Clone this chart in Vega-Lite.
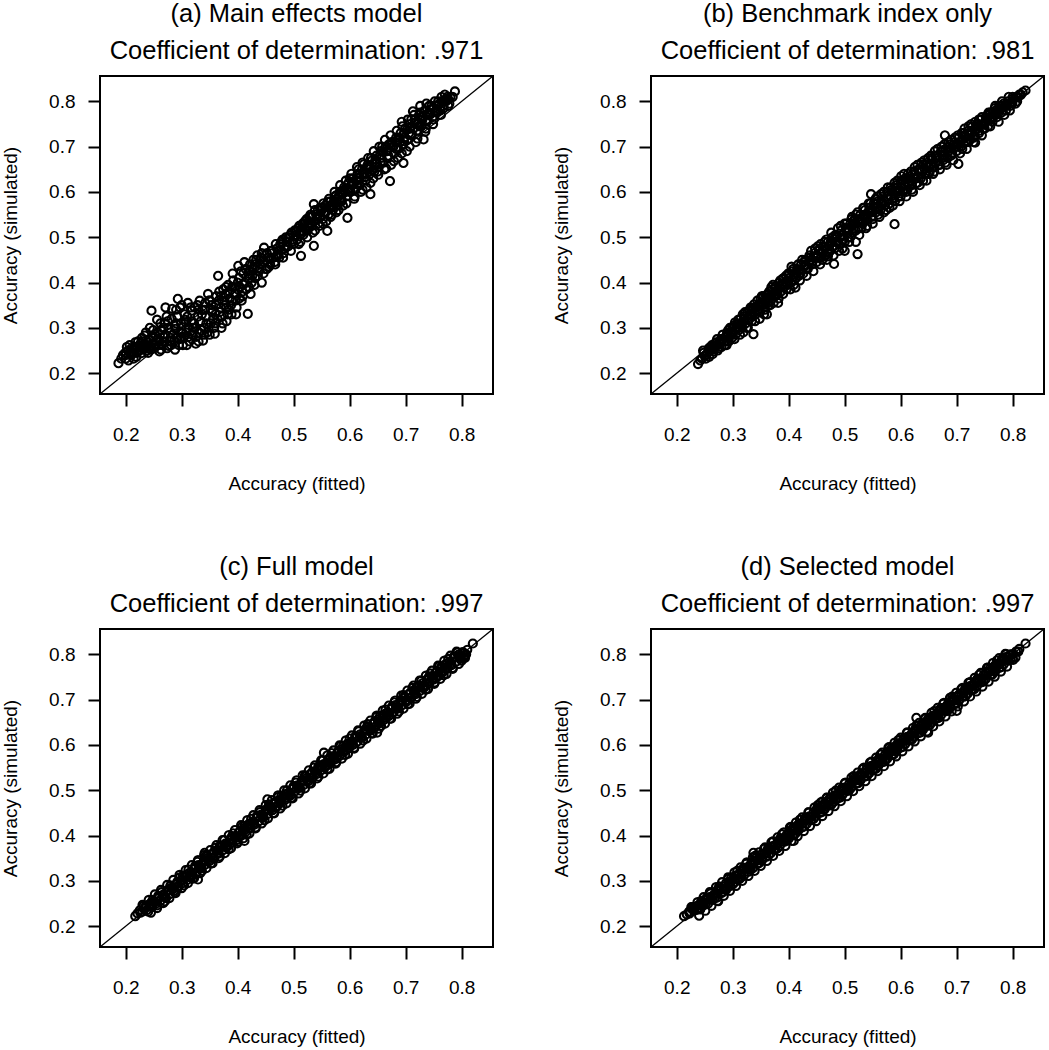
{
"$schema":"https://vega.github.io/schema/vega-lite/v6.json",
"padding":{"left":0,"top":0,"right":0,"bottom":0},
"background":"white",
"config":{
 "view":{"stroke":"black","strokeWidth":2},
 "font":"Liberation Sans",
 "axis":{"grid":false,"domain":false,"tickColor":"black","tickWidth":2,"tickSize":12,"labelFont":"Liberation Sans","labelFontSize":19,"labelColor":"black","titleFont":"Liberation Sans","titleFontSize":19,"titleFontWeight":"normal","titleColor":"black","format":".1f","labelFlush":false,"labelOverlap":false},
 "axisX":{"labelPadding":19,"titlePadding":30},
 "axisY":{"labelPadding":13,"titlePadding":28,"labelAngle":0},
 "point":{"shape":"circle","filled":false,"color":"black","size":66,"strokeWidth":2.1,"opacity":1,"clip":true},
 "line":{"color":"black","strokeWidth":1.3,"clip":true},
 "title":{"fontSize":25.5,"fontWeight":"normal","font":"Liberation Sans","color":"black","lineHeight":37,"baseline":"bottom","offset":9,"frame":"group","anchor":"middle"}
},
"datasets":{
"diag":[{"x":0.154,"y":0.154},{"x":0.856,"y":0.856}],
"a":[{"x":0.187,"y":0.222},{"x":0.195,"y":0.24},{"x":0.2,"y":0.232},{"x":0.204,"y":0.25},{"x":0.207,"y":0.262},{"x":0.21,"y":0.24},{"x":0.213,"y":0.245},{"x":0.216,"y":0.258},{"x":0.219,"y":0.236},{"x":0.222,"y":0.27},{"x":0.225,"y":0.25},{"x":0.228,"y":0.244},{"x":0.231,"y":0.262},{"x":0.234,"y":0.283},{"x":0.237,"y":0.25},{"x":0.24,"y":0.245},{"x":0.243,"y":0.3},{"x":0.246,"y":0.338},{"x":0.248,"y":0.265},{"x":0.251,"y":0.255},{"x":0.254,"y":0.272},{"x":0.257,"y":0.29},{"x":0.26,"y":0.248},{"x":0.262,"y":0.31},{"x":0.265,"y":0.262},{"x":0.268,"y":0.28},{"x":0.271,"y":0.345},{"x":0.274,"y":0.255},{"x":0.276,"y":0.3},{"x":0.279,"y":0.27},{"x":0.282,"y":0.32},{"x":0.285,"y":0.285},{"x":0.288,"y":0.252},{"x":0.29,"y":0.34},{"x":0.293,"y":0.364},{"x":0.296,"y":0.275},{"x":0.299,"y":0.31},{"x":0.302,"y":0.262},{"x":0.305,"y":0.33},{"x":0.308,"y":0.29},{"x":0.311,"y":0.355},{"x":0.314,"y":0.27},{"x":0.317,"y":0.315},{"x":0.32,"y":0.3},{"x":0.323,"y":0.345},{"x":0.326,"y":0.28},{"x":0.329,"y":0.325},{"x":0.332,"y":0.36},{"x":0.335,"y":0.295},{"x":0.338,"y":0.272},{"x":0.341,"y":0.34},{"x":0.344,"y":0.31},{"x":0.347,"y":0.375},{"x":0.35,"y":0.285},{"x":0.353,"y":0.35},{"x":0.356,"y":0.32},{"x":0.359,"y":0.287},{"x":0.362,"y":0.37},{"x":0.365,"y":0.415},{"x":0.368,"y":0.335},{"x":0.371,"y":0.3},{"x":0.374,"y":0.385},{"x":0.377,"y":0.35},{"x":0.38,"y":0.315},{"x":0.383,"y":0.395},{"x":0.386,"y":0.365},{"x":0.389,"y":0.33},{"x":0.392,"y":0.405},{"x":0.395,"y":0.375},{"x":0.398,"y":0.345},{"x":0.401,"y":0.437},{"x":0.404,"y":0.39},{"x":0.407,"y":0.36},{"x":0.41,"y":0.42},{"x":0.413,"y":0.4},{"x":0.418,"y":0.331},{"x":0.42,"y":0.41},{"x":0.423,"y":0.375},{"x":0.426,"y":0.43},{"x":0.43,"y":0.395},{"x":0.433,"y":0.45},{"x":0.436,"y":0.415},{"x":0.44,"y":0.44},{"x":0.443,"y":0.4},{"x":0.447,"y":0.477},{"x":0.45,"y":0.43},{"x":0.454,"y":0.455},{"x":0.458,"y":0.44},{"x":0.462,"y":0.465},{"x":0.466,"y":0.445},{"x":0.47,"y":0.475},{"x":0.474,"y":0.455},{"x":0.478,"y":0.49},{"x":0.482,"y":0.465},{"x":0.486,"y":0.5},{"x":0.49,"y":0.48},{"x":0.494,"y":0.505},{"x":0.498,"y":0.49},{"x":0.502,"y":0.515},{"x":0.506,"y":0.495},{"x":0.51,"y":0.525},{"x":0.513,"y":0.459},{"x":0.517,"y":0.505},{"x":0.52,"y":0.535},{"x":0.524,"y":0.515},{"x":0.528,"y":0.545},{"x":0.532,"y":0.525},{"x":0.536,"y":0.481},{"x":0.536,"y":0.573},{"x":0.54,"y":0.55},{"x":0.544,"y":0.53},{"x":0.548,"y":0.56},{"x":0.552,"y":0.54},{"x":0.556,"y":0.57},{"x":0.56,"y":0.514},{"x":0.562,"y":0.55},{"x":0.566,"y":0.58},{"x":0.57,"y":0.56},{"x":0.574,"y":0.59},{"x":0.578,"y":0.57},{"x":0.582,"y":0.6},{"x":0.586,"y":0.58},{"x":0.59,"y":0.61},{"x":0.594,"y":0.59},{"x":0.596,"y":0.543},{"x":0.598,"y":0.62},{"x":0.602,"y":0.6},{"x":0.606,"y":0.63},{"x":0.61,"y":0.605},{"x":0.614,"y":0.64},{"x":0.618,"y":0.615},{"x":0.622,"y":0.65},{"x":0.625,"y":0.661},{"x":0.628,"y":0.625},{"x":0.632,"y":0.66},{"x":0.636,"y":0.64},{"x":0.637,"y":0.595},{"x":0.64,"y":0.67},{"x":0.644,"y":0.645},{"x":0.648,"y":0.68},{"x":0.652,"y":0.655},{"x":0.656,"y":0.69},{"x":0.66,"y":0.665},{"x":0.664,"y":0.7},{"x":0.668,"y":0.675},{"x":0.672,"y":0.624},{"x":0.675,"y":0.71},{"x":0.679,"y":0.685},{"x":0.683,"y":0.72},{"x":0.687,"y":0.695},{"x":0.691,"y":0.73},{"x":0.695,"y":0.705},{"x":0.696,"y":0.664},{"x":0.699,"y":0.74},{"x":0.703,"y":0.715},{"x":0.707,"y":0.75},{"x":0.711,"y":0.725},{"x":0.713,"y":0.778},{"x":0.716,"y":0.76},{"x":0.72,"y":0.735},{"x":0.724,"y":0.77},{"x":0.728,"y":0.745},{"x":0.732,"y":0.716},{"x":0.734,"y":0.78},{"x":0.738,"y":0.755},{"x":0.742,"y":0.79},{"x":0.744,"y":0.771},{"x":0.748,"y":0.765},{"x":0.752,"y":0.8},{"x":0.756,"y":0.775},{"x":0.76,"y":0.795},{"x":0.764,"y":0.81},{"x":0.768,"y":0.785},{"x":0.772,"y":0.8},{"x":0.776,"y":0.79},{"x":0.78,"y":0.81},{"x":0.788,"y":0.822},
{"x":0.205,"y":0.228},{"x":0.218,"y":0.252},{"x":0.229,"y":0.256},{"x":0.238,"y":0.268},{"x":0.244,"y":0.258},{"x":0.252,"y":0.285},{"x":0.259,"y":0.262},{"x":0.264,"y":0.295},{"x":0.269,"y":0.27},{"x":0.275,"y":0.315},{"x":0.281,"y":0.262},{"x":0.287,"y":0.305},{"x":0.292,"y":0.278},{"x":0.297,"y":0.345},{"x":0.301,"y":0.288},{"x":0.307,"y":0.312},{"x":0.312,"y":0.28},{"x":0.318,"y":0.338},{"x":0.324,"y":0.3},{"x":0.33,"y":0.27},{"x":0.336,"y":0.33},{"x":0.342,"y":0.355},{"x":0.348,"y":0.3},{"x":0.354,"y":0.335},{"x":0.36,"y":0.31},{"x":0.366,"y":0.36},{"x":0.372,"y":0.325},{"x":0.378,"y":0.375},{"x":0.384,"y":0.34},{"x":0.39,"y":0.39},{"x":0.396,"y":0.36},{"x":0.402,"y":0.41},{"x":0.408,"y":0.38},{"x":0.414,"y":0.43},{"x":0.42,"y":0.39},{"x":0.426,"y":0.415},{"x":0.432,"y":0.435},{"x":0.438,"y":0.425},{"x":0.442,"y":0.455},{"x":0.448,"y":0.445},{"x":0.452,"y":0.465},{"x":0.456,"y":0.435},{"x":0.46,"y":0.47},{"x":0.464,"y":0.455},{"x":0.468,"y":0.485},{"x":0.472,"y":0.46},{"x":0.476,"y":0.48},{"x":0.48,"y":0.495},{"x":0.484,"y":0.475},{"x":0.488,"y":0.49},{"x":0.492,"y":0.5},{"x":0.496,"y":0.51},{"x":0.5,"y":0.485},{"x":0.504,"y":0.505},{"x":0.508,"y":0.52},{"x":0.512,"y":0.49},{"x":0.516,"y":0.53},{"x":0.52,"y":0.52},{"x":0.526,"y":0.53},{"x":0.53,"y":0.55},{"x":0.534,"y":0.51},{"x":0.538,"y":0.56},{"x":0.542,"y":0.545},{"x":0.546,"y":0.525},{"x":0.55,"y":0.565},{"x":0.554,"y":0.555},{"x":0.558,"y":0.535},{"x":0.564,"y":0.57},{"x":0.568,"y":0.55},{"x":0.572,"y":0.58},{"x":0.576,"y":0.555},{"x":0.58,"y":0.59},{"x":0.584,"y":0.6},{"x":0.588,"y":0.57},{"x":0.592,"y":0.6},{"x":0.6,"y":0.63},{"x":0.604,"y":0.615},{"x":0.608,"y":0.585},{"x":0.612,"y":0.625},{"x":0.616,"y":0.65},{"x":0.62,"y":0.6},{"x":0.624,"y":0.64},{"x":0.63,"y":0.61},{"x":0.634,"y":0.65},{"x":0.638,"y":0.675},{"x":0.642,"y":0.63},{"x":0.646,"y":0.665},{"x":0.65,"y":0.645},{"x":0.654,"y":0.68},{"x":0.658,"y":0.7},{"x":0.662,"y":0.65},{"x":0.666,"y":0.69},{"x":0.67,"y":0.705},{"x":0.674,"y":0.66},{"x":0.678,"y":0.7},{"x":0.682,"y":0.71},{"x":0.686,"y":0.675},{"x":0.69,"y":0.71},{"x":0.694,"y":0.745},{"x":0.698,"y":0.72},{"x":0.702,"y":0.69},{"x":0.706,"y":0.73},{"x":0.71,"y":0.76},{"x":0.714,"y":0.74},{"x":0.718,"y":0.71},{"x":0.722,"y":0.75},{"x":0.726,"y":0.775},{"x":0.73,"y":0.76},{"x":0.736,"y":0.74},{"x":0.74,"y":0.77},{"x":0.746,"y":0.79},{"x":0.75,"y":0.76},{"x":0.758,"y":0.8},{"x":0.762,"y":0.78},{"x":0.77,"y":0.815},{"x":0.776,"y":0.805},{"x":0.784,"y":0.81},
{"x":0.192,"y":0.232},{"x":0.199,"y":0.245},{"x":0.202,"y":0.258},{"x":0.209,"y":0.248},{"x":0.214,"y":0.232},{"x":0.217,"y":0.268},{"x":0.221,"y":0.258},{"x":0.226,"y":0.265},{"x":0.229,"y":0.278},{"x":0.233,"y":0.255},{"x":0.236,"y":0.29},{"x":0.239,"y":0.262},{"x":0.242,"y":0.275},{"x":0.245,"y":0.252},{"x":0.249,"y":0.295},{"x":0.253,"y":0.262},{"x":0.256,"y":0.318},{"x":0.258,"y":0.275},{"x":0.261,"y":0.285},{"x":0.263,"y":0.252},{"x":0.267,"y":0.3},{"x":0.27,"y":0.285},{"x":0.273,"y":0.325},{"x":0.277,"y":0.26},{"x":0.28,"y":0.29},{"x":0.283,"y":0.342},{"x":0.286,"y":0.27},{"x":0.289,"y":0.298},{"x":0.292,"y":0.325},{"x":0.295,"y":0.262},{"x":0.298,"y":0.29},{"x":0.3,"y":0.35},{"x":0.304,"y":0.28},{"x":0.306,"y":0.318},{"x":0.309,"y":0.262},{"x":0.313,"y":0.3},{"x":0.316,"y":0.345},{"x":0.319,"y":0.285},{"x":0.322,"y":0.31},{"x":0.325,"y":0.265},{"x":0.328,"y":0.35},{"x":0.331,"y":0.29},{"x":0.334,"y":0.315},{"x":0.337,"y":0.34},{"x":0.34,"y":0.285},{"x":0.343,"y":0.325},{"x":0.346,"y":0.29},{"x":0.349,"y":0.36},{"x":0.352,"y":0.31},{"x":0.355,"y":0.34},{"x":0.358,"y":0.3},{"x":0.361,"y":0.35},{"x":0.364,"y":0.32},{"x":0.367,"y":0.38},{"x":0.37,"y":0.345},{"x":0.373,"y":0.31},{"x":0.376,"y":0.36},{"x":0.379,"y":0.39},{"x":0.382,"y":0.33},{"x":0.385,"y":0.38},{"x":0.388,"y":0.35},{"x":0.391,"y":0.42},{"x":0.394,"y":0.39},{"x":0.397,"y":0.33},{"x":0.4,"y":0.4},{"x":0.403,"y":0.365},{"x":0.406,"y":0.425},{"x":0.409,"y":0.37},{"x":0.412,"y":0.445},{"x":0.415,"y":0.385},{"x":0.419,"y":0.42},{"x":0.422,"y":0.44},{"x":0.425,"y":0.4},{"x":0.428,"y":0.45},{"x":0.431,"y":0.41},{"x":0.435,"y":0.46},{"x":0.439,"y":0.43},{"x":0.443,"y":0.465},{"x":0.446,"y":0.42},
{"x":0.51,"y":0.51},{"x":0.515,"y":0.515},{"x":0.523,"y":0.54},{"x":0.527,"y":0.52},{"x":0.533,"y":0.545},{"x":0.537,"y":0.535},{"x":0.543,"y":0.56},{"x":0.547,"y":0.545},{"x":0.553,"y":0.575},{"x":0.557,"y":0.555},{"x":0.563,"y":0.585},{"x":0.567,"y":0.57},{"x":0.573,"y":0.6},{"x":0.577,"y":0.58},{"x":0.583,"y":0.615},{"x":0.587,"y":0.595},{"x":0.593,"y":0.625},{"x":0.597,"y":0.605},{"x":0.603,"y":0.64},{"x":0.607,"y":0.62},{"x":0.613,"y":0.655},{"x":0.617,"y":0.63},{"x":0.623,"y":0.665},{"x":0.627,"y":0.64},{"x":0.633,"y":0.675},{"x":0.637,"y":0.655},{"x":0.643,"y":0.69},{"x":0.647,"y":0.665},{"x":0.653,"y":0.7},{"x":0.657,"y":0.675},{"x":0.663,"y":0.715},{"x":0.667,"y":0.69},{"x":0.673,"y":0.725},{"x":0.677,"y":0.7},{"x":0.684,"y":0.735},{"x":0.688,"y":0.715},{"x":0.693,"y":0.755},{"x":0.697,"y":0.73},{"x":0.704,"y":0.76},{"x":0.708,"y":0.74},{"x":0.715,"y":0.77},{"x":0.719,"y":0.75},{"x":0.726,"y":0.79},{"x":0.731,"y":0.765},{"x":0.737,"y":0.795},{"x":0.741,"y":0.775},{"x":0.75,"y":0.785},{"x":0.757,"y":0.79},{"x":0.766,"y":0.8},{"x":0.774,"y":0.81},
{"x":0.452,"y":0.43},{"x":0.457,"y":0.452},{"x":0.461,"y":0.47},{"x":0.467,"y":0.44},{"x":0.471,"y":0.462},{"x":0.476,"y":0.485},{"x":0.481,"y":0.455},{"x":0.486,"y":0.478},{"x":0.49,"y":0.5},{"x":0.495,"y":0.47},{"x":0.5,"y":0.495},{"x":0.505,"y":0.515},{"x":0.509,"y":0.485},{"x":0.514,"y":0.508},{"x":0.519,"y":0.53},{"x":0.524,"y":0.5},{"x":0.528,"y":0.525},{"x":0.533,"y":0.548},{"x":0.538,"y":0.515},{"x":0.543,"y":0.54},{"x":0.547,"y":0.565},{"x":0.552,"y":0.53},{"x":0.557,"y":0.556},{"x":0.561,"y":0.578},{"x":0.566,"y":0.545},{"x":0.571,"y":0.568},{"x":0.575,"y":0.592},{"x":0.58,"y":0.56},{"x":0.585,"y":0.583},{"x":0.59,"y":0.605},{"x":0.594,"y":0.575},{"x":0.599,"y":0.6},{"x":0.604,"y":0.622},{"x":0.609,"y":0.59},{"x":0.613,"y":0.617},{"x":0.618,"y":0.64},{"x":0.623,"y":0.605},{"x":0.627,"y":0.633},{"x":0.632,"y":0.655},{"x":0.637,"y":0.62},{"x":0.641,"y":0.648},{"x":0.646,"y":0.672},{"x":0.651,"y":0.638},{"x":0.655,"y":0.664},{"x":0.66,"y":0.688},{"x":0.665,"y":0.652},{"x":0.669,"y":0.68},{"x":0.674,"y":0.703},{"x":0.679,"y":0.668},{"x":0.683,"y":0.695},{"x":0.688,"y":0.72},{"x":0.693,"y":0.685},{"x":0.697,"y":0.712},{"x":0.702,"y":0.737},{"x":0.707,"y":0.7},{"x":0.711,"y":0.728},{"x":0.716,"y":0.752},{"x":0.721,"y":0.718},{"x":0.725,"y":0.745},{"x":0.73,"y":0.768},{"x":0.735,"y":0.733},{"x":0.739,"y":0.76},{"x":0.744,"y":0.782},{"x":0.749,"y":0.75},{"x":0.753,"y":0.776},{"x":0.758,"y":0.792},{"x":0.763,"y":0.77},{"x":0.767,"y":0.79},{"x":0.772,"y":0.805},{"x":0.778,"y":0.795},
{"x":0.2,"y":0.24},{"x":0.21,"y":0.255},{"x":0.22,"y":0.245},{"x":0.23,"y":0.27},{"x":0.24,"y":0.255},{"x":0.25,"y":0.28},{"x":0.26,"y":0.27},{"x":0.27,"y":0.31},{"x":0.28,"y":0.278},{"x":0.29,"y":0.31},{"x":0.3,"y":0.28},{"x":0.31,"y":0.325},{"x":0.32,"y":0.29},{"x":0.33,"y":0.34},{"x":0.34,"y":0.3},{"x":0.35,"y":0.36},{"x":0.36,"y":0.33},{"x":0.37,"y":0.37},{"x":0.38,"y":0.345},{"x":0.39,"y":0.36},{"x":0.4,"y":0.385},{"x":0.41,"y":0.395},{"x":0.42,"y":0.425},{"x":0.43,"y":0.44},{"x":0.44,"y":0.45}],
"b":[{"x":0.238,"y":0.22},{"x":0.245,"y":0.232},{"x":0.25,"y":0.238},{"x":0.255,"y":0.245},{"x":0.258,"y":0.236},{"x":0.262,"y":0.252},{"x":0.266,"y":0.248},{"x":0.27,"y":0.26},{"x":0.273,"y":0.25},{"x":0.276,"y":0.268},{"x":0.28,"y":0.258},{"x":0.283,"y":0.275},{"x":0.286,"y":0.262},{"x":0.29,"y":0.285},{"x":0.293,"y":0.27},{"x":0.296,"y":0.29},{"x":0.299,"y":0.278},{"x":0.302,"y":0.305},{"x":0.305,"y":0.285},{"x":0.308,"y":0.31},{"x":0.311,"y":0.295},{"x":0.314,"y":0.32},{"x":0.317,"y":0.3},{"x":0.32,"y":0.325},{"x":0.323,"y":0.31},{"x":0.326,"y":0.335},{"x":0.329,"y":0.318},{"x":0.332,"y":0.345},{"x":0.335,"y":0.325},{"x":0.337,"y":0.286},{"x":0.338,"y":0.352},{"x":0.341,"y":0.33},{"x":0.344,"y":0.36},{"x":0.347,"y":0.34},{"x":0.35,"y":0.365},{"x":0.353,"y":0.35},{"x":0.356,"y":0.33},{"x":0.359,"y":0.372},{"x":0.361,"y":0.33},{"x":0.362,"y":0.355},{"x":0.365,"y":0.38},{"x":0.368,"y":0.36},{"x":0.371,"y":0.385},{"x":0.374,"y":0.37},{"x":0.377,"y":0.392},{"x":0.38,"y":0.375},{"x":0.383,"y":0.4},{"x":0.386,"y":0.38},{"x":0.389,"y":0.408},{"x":0.392,"y":0.39},{"x":0.395,"y":0.415},{"x":0.398,"y":0.395},{"x":0.401,"y":0.42},{"x":0.404,"y":0.4},{"x":0.407,"y":0.425},{"x":0.41,"y":0.405},{"x":0.412,"y":0.389},{"x":0.415,"y":0.43},{"x":0.418,"y":0.415},{"x":0.422,"y":0.44},{"x":0.426,"y":0.42},{"x":0.43,"y":0.45},{"x":0.434,"y":0.43},{"x":0.438,"y":0.455},{"x":0.442,"y":0.44},{"x":0.446,"y":0.465},{"x":0.45,"y":0.445},{"x":0.454,"y":0.47},{"x":0.458,"y":0.455},{"x":0.462,"y":0.48},{"x":0.466,"y":0.46},{"x":0.47,"y":0.49},{"x":0.474,"y":0.47},{"x":0.478,"y":0.5},{"x":0.481,"y":0.441},{"x":0.482,"y":0.475},{"x":0.486,"y":0.505},{"x":0.49,"y":0.485},{"x":0.494,"y":0.515},{"x":0.498,"y":0.495},{"x":0.5,"y":0.47},{"x":0.502,"y":0.52},{"x":0.506,"y":0.5},{"x":0.51,"y":0.53},{"x":0.514,"y":0.51},{"x":0.518,"y":0.54},{"x":0.52,"y":0.49},{"x":0.523,"y":0.463},{"x":0.525,"y":0.52},{"x":0.528,"y":0.55},{"x":0.532,"y":0.53},{"x":0.536,"y":0.56},{"x":0.54,"y":0.54},{"x":0.544,"y":0.565},{"x":0.547,"y":0.595},{"x":0.548,"y":0.545},{"x":0.552,"y":0.575},{"x":0.556,"y":0.555},{"x":0.56,"y":0.58},{"x":0.564,"y":0.56},{"x":0.568,"y":0.59},{"x":0.572,"y":0.57},{"x":0.576,"y":0.6},{"x":0.58,"y":0.575},{"x":0.584,"y":0.605},{"x":0.588,"y":0.585},{"x":0.589,"y":0.529},{"x":0.592,"y":0.615},{"x":0.596,"y":0.59},{"x":0.6,"y":0.62},{"x":0.604,"y":0.6},{"x":0.608,"y":0.63},{"x":0.612,"y":0.605},{"x":0.616,"y":0.635},{"x":0.62,"y":0.615},{"x":0.624,"y":0.645},{"x":0.628,"y":0.62},{"x":0.632,"y":0.65},{"x":0.636,"y":0.63},{"x":0.64,"y":0.66},{"x":0.644,"y":0.64},{"x":0.648,"y":0.665},{"x":0.652,"y":0.645},{"x":0.656,"y":0.675},{"x":0.66,"y":0.655},{"x":0.664,"y":0.68},{"x":0.668,"y":0.66},{"x":0.672,"y":0.69},{"x":0.676,"y":0.67},{"x":0.679,"y":0.725},{"x":0.68,"y":0.695},{"x":0.684,"y":0.675},{"x":0.688,"y":0.705},{"x":0.692,"y":0.685},{"x":0.696,"y":0.71},{"x":0.7,"y":0.69},{"x":0.703,"y":0.662},{"x":0.704,"y":0.72},{"x":0.708,"y":0.7},{"x":0.712,"y":0.73},{"x":0.716,"y":0.71},{"x":0.72,"y":0.735},{"x":0.724,"y":0.715},{"x":0.728,"y":0.745},{"x":0.732,"y":0.725},{"x":0.733,"y":0.709},{"x":0.736,"y":0.75},{"x":0.74,"y":0.735},{"x":0.744,"y":0.76},{"x":0.748,"y":0.74},{"x":0.752,"y":0.765},{"x":0.756,"y":0.745},{"x":0.76,"y":0.775},{"x":0.764,"y":0.755},{"x":0.768,"y":0.785},{"x":0.772,"y":0.765},{"x":0.776,"y":0.79},{"x":0.78,"y":0.775},{"x":0.784,"y":0.795},{"x":0.788,"y":0.78},{"x":0.792,"y":0.8},{"x":0.796,"y":0.79},{"x":0.8,"y":0.805},{"x":0.805,"y":0.795},{"x":0.81,"y":0.81},{"x":0.815,"y":0.815},{"x":0.823,"y":0.824},
{"x":0.242,"y":0.228},{"x":0.248,"y":0.245},{"x":0.253,"y":0.24},{"x":0.26,"y":0.258},{"x":0.264,"y":0.242},{"x":0.268,"y":0.265},{"x":0.275,"y":0.255},{"x":0.279,"y":0.275},{"x":0.285,"y":0.27},{"x":0.289,"y":0.262},{"x":0.292,"y":0.295},{"x":0.298,"y":0.285},{"x":0.303,"y":0.275},{"x":0.306,"y":0.3},{"x":0.31,"y":0.318},{"x":0.315,"y":0.305},{"x":0.319,"y":0.29},{"x":0.322,"y":0.335},{"x":0.327,"y":0.3},{"x":0.331,"y":0.33},{"x":0.336,"y":0.342},{"x":0.34,"y":0.315},{"x":0.345,"y":0.35},{"x":0.349,"y":0.335},{"x":0.352,"y":0.37},{"x":0.357,"y":0.345},{"x":0.36,"y":0.365},{"x":0.364,"y":0.35},{"x":0.369,"y":0.39},{"x":0.373,"y":0.355},{"x":0.378,"y":0.38},{"x":0.382,"y":0.365},{"x":0.387,"y":0.395},{"x":0.391,"y":0.41},{"x":0.396,"y":0.385},{"x":0.4,"y":0.41},{"x":0.405,"y":0.435},{"x":0.409,"y":0.395},{"x":0.414,"y":0.42},{"x":0.42,"y":0.405},{"x":0.424,"y":0.45},{"x":0.428,"y":0.435},{"x":0.432,"y":0.415},{"x":0.436,"y":0.445},{"x":0.44,"y":0.47},{"x":0.444,"y":0.425},{"x":0.448,"y":0.455},{"x":0.452,"y":0.48},{"x":0.456,"y":0.44},{"x":0.46,"y":0.465},{"x":0.464,"y":0.49},{"x":0.468,"y":0.45},{"x":0.472,"y":0.48},{"x":0.476,"y":0.51},{"x":0.48,"y":0.46},{"x":0.484,"y":0.49},{"x":0.488,"y":0.52},{"x":0.492,"y":0.5},{"x":0.496,"y":0.475},{"x":0.5,"y":0.53},{"x":0.504,"y":0.51},{"x":0.508,"y":0.49},{"x":0.512,"y":0.54},{"x":0.516,"y":0.52},{"x":0.52,"y":0.55},{"x":0.526,"y":0.505},{"x":0.53,"y":0.54},{"x":0.534,"y":0.565},{"x":0.538,"y":0.52},{"x":0.542,"y":0.555},{"x":0.546,"y":0.575},{"x":0.55,"y":0.53},{"x":0.554,"y":0.565},{"x":0.558,"y":0.59},{"x":0.562,"y":0.545},{"x":0.566,"y":0.575},{"x":0.57,"y":0.6},{"x":0.574,"y":0.56},{"x":0.578,"y":0.585},{"x":0.582,"y":0.61},{"x":0.586,"y":0.57},{"x":0.59,"y":0.6},{"x":0.594,"y":0.625},{"x":0.598,"y":0.58},{"x":0.602,"y":0.61},{"x":0.606,"y":0.64},{"x":0.61,"y":0.59},{"x":0.614,"y":0.62},{"x":0.618,"y":0.645},{"x":0.622,"y":0.6},{"x":0.626,"y":0.63},{"x":0.63,"y":0.66},{"x":0.634,"y":0.615},{"x":0.638,"y":0.645},{"x":0.642,"y":0.67},{"x":0.646,"y":0.625},{"x":0.65,"y":0.655},{"x":0.654,"y":0.68},{"x":0.658,"y":0.64},{"x":0.662,"y":0.665},{"x":0.666,"y":0.695},{"x":0.67,"y":0.65},{"x":0.674,"y":0.68},{"x":0.678,"y":0.705},{"x":0.682,"y":0.66},{"x":0.686,"y":0.69},{"x":0.69,"y":0.715},{"x":0.694,"y":0.67},{"x":0.698,"y":0.7},{"x":0.702,"y":0.725},{"x":0.706,"y":0.685},{"x":0.71,"y":0.715},{"x":0.714,"y":0.74},{"x":0.718,"y":0.695},{"x":0.722,"y":0.725},{"x":0.726,"y":0.75},{"x":0.73,"y":0.71},{"x":0.735,"y":0.74},{"x":0.74,"y":0.76},{"x":0.745,"y":0.725},{"x":0.75,"y":0.75},{"x":0.755,"y":0.77},{"x":0.76,"y":0.745},{"x":0.765,"y":0.765},{"x":0.77,"y":0.78},{"x":0.775,"y":0.755},{"x":0.78,"y":0.79},{"x":0.785,"y":0.77},{"x":0.79,"y":0.795},{"x":0.795,"y":0.78},{"x":0.8,"y":0.8},{"x":0.808,"y":0.8},{"x":0.812,"y":0.815},
{"x":0.247,"y":0.25},{"x":0.252,"y":0.232},{"x":0.257,"y":0.255},{"x":0.263,"y":0.262},{"x":0.267,"y":0.255},{"x":0.272,"y":0.275},{"x":0.278,"y":0.265},{"x":0.282,"y":0.285},{"x":0.287,"y":0.28},{"x":0.291,"y":0.27},{"x":0.295,"y":0.3},{"x":0.3,"y":0.29},{"x":0.304,"y":0.312},{"x":0.309,"y":0.3},{"x":0.313,"y":0.285},{"x":0.318,"y":0.33},{"x":0.321,"y":0.315},{"x":0.325,"y":0.3},{"x":0.33,"y":0.34},{"x":0.334,"y":0.315},{"x":0.339,"y":0.335},{"x":0.343,"y":0.345},{"x":0.348,"y":0.32},{"x":0.351,"y":0.355},{"x":0.355,"y":0.37},{"x":0.358,"y":0.34},{"x":0.363,"y":0.375},{"x":0.367,"y":0.35},{"x":0.372,"y":0.395},{"x":0.376,"y":0.375},{"x":0.381,"y":0.355},{"x":0.385,"y":0.405},{"x":0.39,"y":0.375},{"x":0.394,"y":0.4},{"x":0.399,"y":0.42},{"x":0.403,"y":0.385},{"x":0.408,"y":0.43},{"x":0.413,"y":0.41},{"x":0.417,"y":0.44},{"x":0.421,"y":0.42},{"x":0.427,"y":0.445},{"x":0.431,"y":0.43},{"x":0.437,"y":0.46},{"x":0.441,"y":0.445},{"x":0.447,"y":0.475},{"x":0.451,"y":0.455},{"x":0.457,"y":0.485},{"x":0.461,"y":0.47},{"x":0.467,"y":0.495},{"x":0.471,"y":0.465},{"x":0.477,"y":0.49},{"x":0.483,"y":0.505},{"x":0.487,"y":0.49},{"x":0.493,"y":0.525},{"x":0.497,"y":0.505},{"x":0.503,"y":0.53},{"x":0.507,"y":0.515},{"x":0.513,"y":0.545},{"x":0.517,"y":0.53},{"x":0.523,"y":0.555},{"x":0.527,"y":0.535},{"x":0.533,"y":0.565},{"x":0.537,"y":0.545},{"x":0.543,"y":0.575},{"x":0.549,"y":0.555},{"x":0.555,"y":0.585},{"x":0.559,"y":0.565},{"x":0.565,"y":0.595},{"x":0.571,"y":0.58},{"x":0.577,"y":0.61},{"x":0.583,"y":0.59},{"x":0.589,"y":0.62},{"x":0.595,"y":0.6},{"x":0.601,"y":0.635},{"x":0.607,"y":0.615},{"x":0.613,"y":0.64},{"x":0.619,"y":0.625},{"x":0.625,"y":0.655},{"x":0.631,"y":0.635},{"x":0.637,"y":0.665},{"x":0.643,"y":0.65},{"x":0.649,"y":0.675},{"x":0.655,"y":0.66},{"x":0.661,"y":0.69},{"x":0.667,"y":0.67},{"x":0.673,"y":0.7},{"x":0.679,"y":0.68},{"x":0.685,"y":0.71},{"x":0.691,"y":0.695},{"x":0.697,"y":0.72},{"x":0.703,"y":0.705},{"x":0.709,"y":0.73},{"x":0.715,"y":0.72},{"x":0.721,"y":0.745},{"x":0.727,"y":0.73},{"x":0.733,"y":0.755},{"x":0.739,"y":0.745},{"x":0.745,"y":0.765},{"x":0.751,"y":0.755},{"x":0.757,"y":0.775},{"x":0.763,"y":0.765},{"x":0.769,"y":0.79},{"x":0.775,"y":0.775},{"x":0.781,"y":0.8},{"x":0.787,"y":0.79},{"x":0.793,"y":0.81},{"x":0.799,"y":0.795},{"x":0.806,"y":0.81},{"x":0.818,"y":0.82},
{"x":0.26,"y":0.255},{"x":0.27,"y":0.268},{"x":0.28,"y":0.275},{"x":0.29,"y":0.29},{"x":0.3,"y":0.3},{"x":0.31,"y":0.308},{"x":0.32,"y":0.32},{"x":0.33,"y":0.33},{"x":0.34,"y":0.345},{"x":0.35,"y":0.352},{"x":0.36,"y":0.36},{"x":0.37,"y":0.375},{"x":0.38,"y":0.385},{"x":0.39,"y":0.395},{"x":0.4,"y":0.405},{"x":0.41,"y":0.418},{"x":0.42,"y":0.428},{"x":0.43,"y":0.44},{"x":0.44,"y":0.45},{"x":0.45,"y":0.46},{"x":0.455,"y":0.475},{"x":0.46,"y":0.45},{"x":0.465,"y":0.478},{"x":0.47,"y":0.458},{"x":0.475,"y":0.49},{"x":0.48,"y":0.48},{"x":0.485,"y":0.5},{"x":0.49,"y":0.47},{"x":0.495,"y":0.505},{"x":0.5,"y":0.49},{"x":0.505,"y":0.52},{"x":0.51,"y":0.5},{"x":0.515,"y":0.535},{"x":0.52,"y":0.515},{"x":0.525,"y":0.54},{"x":0.53,"y":0.52},{"x":0.535,"y":0.55},{"x":0.54,"y":0.525},{"x":0.545,"y":0.56},{"x":0.55,"y":0.54},{"x":0.555,"y":0.575},{"x":0.56,"y":0.55},{"x":0.565,"y":0.58},{"x":0.57,"y":0.555},{"x":0.575,"y":0.59},{"x":0.58,"y":0.565},{"x":0.585,"y":0.6},{"x":0.59,"y":0.58},{"x":0.595,"y":0.61},{"x":0.6,"y":0.59},{"x":0.605,"y":0.625},{"x":0.61,"y":0.6},{"x":0.615,"y":0.63},{"x":0.62,"y":0.605},{"x":0.625,"y":0.64},{"x":0.63,"y":0.62},{"x":0.635,"y":0.65},{"x":0.64,"y":0.625},{"x":0.645,"y":0.66},{"x":0.65,"y":0.64},{"x":0.655,"y":0.67},{"x":0.66,"y":0.645},{"x":0.665,"y":0.675},{"x":0.67,"y":0.66},{"x":0.675,"y":0.69},{"x":0.68,"y":0.665},{"x":0.685,"y":0.7},{"x":0.69,"y":0.68},{"x":0.695,"y":0.705},{"x":0.7,"y":0.7},{"x":0.705,"y":0.71},{"x":0.71,"y":0.695},{"x":0.715,"y":0.725},{"x":0.72,"y":0.71},{"x":0.725,"y":0.735},{"x":0.73,"y":0.72},{"x":0.735,"y":0.745},{"x":0.74,"y":0.73},{"x":0.745,"y":0.75},{"x":0.75,"y":0.74},{"x":0.755,"y":0.76},{"x":0.76,"y":0.76},{"x":0.765,"y":0.775},{"x":0.77,"y":0.77},{"x":0.775,"y":0.78},{"x":0.78,"y":0.785},{"x":0.79,"y":0.79},{"x":0.8,"y":0.81}],
"c":[{"x":0.217,"y":0.222},{"x":0.225,"y":0.235},{"x":0.23,"y":0.232},{"x":0.234,"y":0.24},{"x":0.238,"y":0.236},{"x":0.242,"y":0.248},{"x":0.246,"y":0.243},{"x":0.25,"y":0.255},{"x":0.254,"y":0.25},{"x":0.258,"y":0.262},{"x":0.262,"y":0.256},{"x":0.266,"y":0.268},{"x":0.27,"y":0.255},{"x":0.274,"y":0.278},{"x":0.278,"y":0.27},{"x":0.282,"y":0.285},{"x":0.286,"y":0.278},{"x":0.29,"y":0.292},{"x":0.294,"y":0.286},{"x":0.298,"y":0.3},{"x":0.302,"y":0.295},{"x":0.306,"y":0.31},{"x":0.31,"y":0.302},{"x":0.314,"y":0.318},{"x":0.318,"y":0.31},{"x":0.322,"y":0.326},{"x":0.326,"y":0.318},{"x":0.329,"y":0.303},{"x":0.33,"y":0.335},{"x":0.334,"y":0.327},{"x":0.338,"y":0.34},{"x":0.341,"y":0.362},{"x":0.342,"y":0.336},{"x":0.346,"y":0.35},{"x":0.35,"y":0.344},{"x":0.354,"y":0.358},{"x":0.358,"y":0.35},{"x":0.362,"y":0.367},{"x":0.366,"y":0.36},{"x":0.37,"y":0.375},{"x":0.374,"y":0.368},{"x":0.378,"y":0.382},{"x":0.382,"y":0.376},{"x":0.386,"y":0.39},{"x":0.39,"y":0.384},{"x":0.394,"y":0.398},{"x":0.398,"y":0.39},{"x":0.402,"y":0.407},{"x":0.406,"y":0.4},{"x":0.41,"y":0.415},{"x":0.412,"y":0.388},{"x":0.414,"y":0.408},{"x":0.418,"y":0.422},{"x":0.422,"y":0.416},{"x":0.426,"y":0.43},{"x":0.43,"y":0.424},{"x":0.434,"y":0.439},{"x":0.438,"y":0.432},{"x":0.442,"y":0.446},{"x":0.446,"y":0.44},{"x":0.45,"y":0.455},{"x":0.453,"y":0.48},{"x":0.454,"y":0.448},{"x":0.458,"y":0.462},{"x":0.462,"y":0.456},{"x":0.466,"y":0.47},{"x":0.47,"y":0.464},{"x":0.474,"y":0.478},{"x":0.478,"y":0.472},{"x":0.482,"y":0.487},{"x":0.486,"y":0.48},{"x":0.49,"y":0.494},{"x":0.494,"y":0.488},{"x":0.498,"y":0.503},{"x":0.502,"y":0.497},{"x":0.506,"y":0.51},{"x":0.51,"y":0.505},{"x":0.514,"y":0.519},{"x":0.518,"y":0.512},{"x":0.522,"y":0.526},{"x":0.526,"y":0.52},{"x":0.53,"y":0.535},{"x":0.534,"y":0.528},{"x":0.538,"y":0.542},{"x":0.542,"y":0.536},{"x":0.546,"y":0.551},{"x":0.55,"y":0.545},{"x":0.554,"y":0.583},{"x":0.554,"y":0.558},{"x":0.558,"y":0.553},{"x":0.562,"y":0.567},{"x":0.566,"y":0.56},{"x":0.57,"y":0.575},{"x":0.574,"y":0.568},{"x":0.578,"y":0.583},{"x":0.582,"y":0.576},{"x":0.586,"y":0.591},{"x":0.59,"y":0.585},{"x":0.594,"y":0.599},{"x":0.598,"y":0.592},{"x":0.602,"y":0.607},{"x":0.606,"y":0.6},{"x":0.61,"y":0.615},{"x":0.614,"y":0.608},{"x":0.618,"y":0.623},{"x":0.622,"y":0.616},{"x":0.626,"y":0.631},{"x":0.63,"y":0.624},{"x":0.634,"y":0.64},{"x":0.638,"y":0.632},{"x":0.642,"y":0.647},{"x":0.646,"y":0.64},{"x":0.649,"y":0.627},{"x":0.65,"y":0.656},{"x":0.654,"y":0.648},{"x":0.658,"y":0.664},{"x":0.662,"y":0.656},{"x":0.666,"y":0.671},{"x":0.67,"y":0.664},{"x":0.674,"y":0.68},{"x":0.678,"y":0.672},{"x":0.682,"y":0.688},{"x":0.686,"y":0.68},{"x":0.69,"y":0.696},{"x":0.694,"y":0.688},{"x":0.698,"y":0.704},{"x":0.702,"y":0.696},{"x":0.706,"y":0.712},{"x":0.71,"y":0.704},{"x":0.714,"y":0.72},{"x":0.718,"y":0.712},{"x":0.722,"y":0.728},{"x":0.726,"y":0.72},{"x":0.73,"y":0.736},{"x":0.734,"y":0.728},{"x":0.738,"y":0.744},{"x":0.742,"y":0.736},{"x":0.746,"y":0.752},{"x":0.75,"y":0.744},{"x":0.754,"y":0.76},{"x":0.758,"y":0.752},{"x":0.762,"y":0.768},{"x":0.766,"y":0.76},{"x":0.77,"y":0.776},{"x":0.774,"y":0.768},{"x":0.778,"y":0.784},{"x":0.782,"y":0.776},{"x":0.786,"y":0.792},{"x":0.79,"y":0.784},{"x":0.794,"y":0.799},{"x":0.798,"y":0.79},{"x":0.803,"y":0.793},{"x":0.802,"y":0.805},{"x":0.806,"y":0.797},{"x":0.81,"y":0.81},{"x":0.82,"y":0.824},
{"x":0.221,"y":0.228},{"x":0.232,"y":0.245},{"x":0.24,"y":0.232},{"x":0.248,"y":0.258},{"x":0.256,"y":0.246},{"x":0.264,"y":0.275},{"x":0.272,"y":0.262},{"x":0.28,"y":0.29},{"x":0.288,"y":0.275},{"x":0.296,"y":0.307},{"x":0.304,"y":0.29},{"x":0.312,"y":0.325},{"x":0.32,"y":0.305},{"x":0.328,"y":0.342},{"x":0.336,"y":0.322},{"x":0.344,"y":0.357},{"x":0.352,"y":0.338},{"x":0.36,"y":0.373},{"x":0.368,"y":0.354},{"x":0.376,"y":0.39},{"x":0.384,"y":0.37},{"x":0.392,"y":0.405},{"x":0.4,"y":0.386},{"x":0.408,"y":0.42},{"x":0.416,"y":0.402},{"x":0.424,"y":0.437},{"x":0.432,"y":0.418},{"x":0.44,"y":0.452},{"x":0.448,"y":0.434},{"x":0.456,"y":0.469},{"x":0.464,"y":0.45},{"x":0.472,"y":0.485},{"x":0.48,"y":0.466},{"x":0.488,"y":0.5},{"x":0.496,"y":0.483},{"x":0.504,"y":0.517},{"x":0.512,"y":0.499},{"x":0.52,"y":0.533},{"x":0.528,"y":0.515},{"x":0.536,"y":0.55},{"x":0.544,"y":0.53},{"x":0.552,"y":0.566},{"x":0.56,"y":0.546},{"x":0.568,"y":0.582},{"x":0.576,"y":0.562},{"x":0.584,"y":0.598},{"x":0.592,"y":0.578},{"x":0.6,"y":0.614},{"x":0.608,"y":0.594},{"x":0.616,"y":0.63},{"x":0.624,"y":0.61},{"x":0.632,"y":0.646},{"x":0.64,"y":0.626},{"x":0.648,"y":0.662},{"x":0.656,"y":0.642},{"x":0.664,"y":0.678},{"x":0.672,"y":0.658},{"x":0.68,"y":0.694},{"x":0.688,"y":0.674},{"x":0.696,"y":0.71},{"x":0.704,"y":0.69},{"x":0.712,"y":0.726},{"x":0.72,"y":0.706},{"x":0.728,"y":0.742},{"x":0.736,"y":0.722},{"x":0.744,"y":0.758},{"x":0.752,"y":0.738},{"x":0.76,"y":0.774},{"x":0.768,"y":0.754},{"x":0.776,"y":0.79},{"x":0.784,"y":0.77},{"x":0.792,"y":0.804},{"x":0.8,"y":0.786},{"x":0.808,"y":0.8},
{"x":0.226,"y":0.23},{"x":0.236,"y":0.241},{"x":0.244,"y":0.25},{"x":0.252,"y":0.253},{"x":0.26,"y":0.265},{"x":0.268,"y":0.27},{"x":0.276,"y":0.28},{"x":0.284,"y":0.282},{"x":0.292,"y":0.298},{"x":0.3,"y":0.302},{"x":0.308,"y":0.314},{"x":0.316,"y":0.314},{"x":0.324,"y":0.33},{"x":0.332,"y":0.331},{"x":0.34,"y":0.346},{"x":0.348,"y":0.347},{"x":0.356,"y":0.362},{"x":0.364,"y":0.362},{"x":0.372,"y":0.378},{"x":0.38,"y":0.379},{"x":0.388,"y":0.394},{"x":0.396,"y":0.395},{"x":0.404,"y":0.41},{"x":0.412,"y":0.412},{"x":0.42,"y":0.426},{"x":0.428,"y":0.427},{"x":0.436,"y":0.443},{"x":0.444,"y":0.443},{"x":0.452,"y":0.459},{"x":0.46,"y":0.46},{"x":0.468,"y":0.475},{"x":0.476,"y":0.475},{"x":0.484,"y":0.491},{"x":0.492,"y":0.491},{"x":0.5,"y":0.507},{"x":0.508,"y":0.507},{"x":0.516,"y":0.522},{"x":0.524,"y":0.523},{"x":0.532,"y":0.539},{"x":0.54,"y":0.539},{"x":0.548,"y":0.555},{"x":0.556,"y":0.555},{"x":0.564,"y":0.571},{"x":0.572,"y":0.571},{"x":0.58,"y":0.587},{"x":0.588,"y":0.587},{"x":0.596,"y":0.603},{"x":0.604,"y":0.603},{"x":0.612,"y":0.619},{"x":0.62,"y":0.619},{"x":0.628,"y":0.635},{"x":0.636,"y":0.635},{"x":0.644,"y":0.651},{"x":0.652,"y":0.651},{"x":0.66,"y":0.667},{"x":0.668,"y":0.667},{"x":0.676,"y":0.683},{"x":0.684,"y":0.683},{"x":0.692,"y":0.699},{"x":0.7,"y":0.699},{"x":0.708,"y":0.715},{"x":0.716,"y":0.715},{"x":0.724,"y":0.731},{"x":0.732,"y":0.731},{"x":0.74,"y":0.747},{"x":0.748,"y":0.747},{"x":0.756,"y":0.763},{"x":0.764,"y":0.763},{"x":0.772,"y":0.779},{"x":0.78,"y":0.779},{"x":0.788,"y":0.795},{"x":0.796,"y":0.795},{"x":0.804,"y":0.803},
{"x":0.23,"y":0.247},{"x":0.241,"y":0.258},{"x":0.252,"y":0.27},{"x":0.263,"y":0.28},{"x":0.274,"y":0.291},{"x":0.285,"y":0.302},{"x":0.296,"y":0.313},{"x":0.307,"y":0.324},{"x":0.318,"y":0.335},{"x":0.329,"y":0.346},{"x":0.34,"y":0.357},{"x":0.351,"y":0.368},{"x":0.362,"y":0.379},{"x":0.373,"y":0.39},{"x":0.384,"y":0.401},{"x":0.395,"y":0.412},{"x":0.406,"y":0.423},{"x":0.417,"y":0.434},{"x":0.428,"y":0.445},{"x":0.439,"y":0.456},{"x":0.45,"y":0.467},{"x":0.461,"y":0.478},{"x":0.472,"y":0.489},{"x":0.483,"y":0.5},{"x":0.494,"y":0.511},{"x":0.505,"y":0.522},{"x":0.516,"y":0.533},{"x":0.527,"y":0.544},{"x":0.538,"y":0.555},{"x":0.549,"y":0.566},{"x":0.56,"y":0.577},{"x":0.571,"y":0.588},{"x":0.582,"y":0.599},{"x":0.593,"y":0.61},{"x":0.604,"y":0.621},{"x":0.615,"y":0.632},{"x":0.626,"y":0.643},{"x":0.637,"y":0.654},{"x":0.648,"y":0.665},{"x":0.659,"y":0.676},{"x":0.67,"y":0.687},{"x":0.681,"y":0.698},{"x":0.692,"y":0.709},{"x":0.703,"y":0.72},{"x":0.714,"y":0.731},{"x":0.725,"y":0.742},{"x":0.736,"y":0.753},{"x":0.747,"y":0.764},{"x":0.758,"y":0.775},{"x":0.769,"y":0.786},{"x":0.78,"y":0.797},{"x":0.791,"y":0.806},
{"x":0.245,"y":0.23},{"x":0.256,"y":0.24},{"x":0.267,"y":0.251},{"x":0.278,"y":0.262},{"x":0.289,"y":0.273},{"x":0.3,"y":0.284},{"x":0.311,"y":0.295},{"x":0.322,"y":0.306},{"x":0.333,"y":0.317},{"x":0.344,"y":0.328},{"x":0.355,"y":0.339},{"x":0.366,"y":0.35},{"x":0.377,"y":0.361},{"x":0.388,"y":0.372},{"x":0.399,"y":0.383},{"x":0.41,"y":0.394},{"x":0.421,"y":0.405},{"x":0.432,"y":0.416},{"x":0.443,"y":0.427},{"x":0.454,"y":0.438},{"x":0.465,"y":0.449},{"x":0.476,"y":0.46},{"x":0.487,"y":0.471},{"x":0.498,"y":0.482},{"x":0.509,"y":0.493},{"x":0.52,"y":0.504},{"x":0.531,"y":0.515},{"x":0.542,"y":0.526},{"x":0.553,"y":0.537},{"x":0.564,"y":0.548},{"x":0.575,"y":0.559},{"x":0.586,"y":0.57},{"x":0.597,"y":0.581},{"x":0.608,"y":0.592},{"x":0.619,"y":0.603},{"x":0.63,"y":0.614},{"x":0.641,"y":0.625},{"x":0.652,"y":0.636},{"x":0.663,"y":0.647},{"x":0.674,"y":0.658},{"x":0.685,"y":0.669},{"x":0.696,"y":0.68},{"x":0.707,"y":0.691},{"x":0.718,"y":0.702},{"x":0.729,"y":0.713},{"x":0.74,"y":0.724},{"x":0.751,"y":0.735},{"x":0.762,"y":0.746},{"x":0.773,"y":0.757},{"x":0.784,"y":0.768},{"x":0.795,"y":0.779},{"x":0.806,"y":0.792},
{"x":0.236,"y":0.245},{"x":0.247,"y":0.242},{"x":0.258,"y":0.267},{"x":0.269,"y":0.264},{"x":0.28,"y":0.289},{"x":0.291,"y":0.286},{"x":0.302,"y":0.311},{"x":0.313,"y":0.308},{"x":0.324,"y":0.333},{"x":0.335,"y":0.33},{"x":0.346,"y":0.355},{"x":0.357,"y":0.352},{"x":0.368,"y":0.377},{"x":0.379,"y":0.374},{"x":0.39,"y":0.399},{"x":0.401,"y":0.396},{"x":0.412,"y":0.421},{"x":0.423,"y":0.418},{"x":0.434,"y":0.443},{"x":0.445,"y":0.44},{"x":0.456,"y":0.465},{"x":0.467,"y":0.462},{"x":0.478,"y":0.487},{"x":0.489,"y":0.484},{"x":0.5,"y":0.509},{"x":0.511,"y":0.506},{"x":0.522,"y":0.531},{"x":0.533,"y":0.528},{"x":0.544,"y":0.553},{"x":0.555,"y":0.55},{"x":0.566,"y":0.575},{"x":0.577,"y":0.572},{"x":0.588,"y":0.597},{"x":0.599,"y":0.594},{"x":0.61,"y":0.619},{"x":0.621,"y":0.616},{"x":0.632,"y":0.641},{"x":0.643,"y":0.638},{"x":0.654,"y":0.663},{"x":0.665,"y":0.66},{"x":0.676,"y":0.685},{"x":0.687,"y":0.682},{"x":0.698,"y":0.707},{"x":0.709,"y":0.704},{"x":0.72,"y":0.729},{"x":0.731,"y":0.726},{"x":0.742,"y":0.751},{"x":0.753,"y":0.748},{"x":0.764,"y":0.773},{"x":0.775,"y":0.77},{"x":0.786,"y":0.795},{"x":0.797,"y":0.792}],
"d":[{"x":0.213,"y":0.222},{"x":0.222,"y":0.232},{"x":0.227,"y":0.238},{"x":0.231,"y":0.235},{"x":0.236,"y":0.244},{"x":0.24,"y":0.24},{"x":0.244,"y":0.252},{"x":0.248,"y":0.246},{"x":0.252,"y":0.258},{"x":0.256,"y":0.25},{"x":0.26,"y":0.264},{"x":0.264,"y":0.258},{"x":0.268,"y":0.27},{"x":0.272,"y":0.263},{"x":0.274,"y":0.255},{"x":0.276,"y":0.281},{"x":0.28,"y":0.273},{"x":0.284,"y":0.288},{"x":0.288,"y":0.28},{"x":0.292,"y":0.296},{"x":0.296,"y":0.289},{"x":0.3,"y":0.304},{"x":0.304,"y":0.297},{"x":0.308,"y":0.313},{"x":0.312,"y":0.304},{"x":0.316,"y":0.321},{"x":0.32,"y":0.312},{"x":0.324,"y":0.329},{"x":0.328,"y":0.32},{"x":0.332,"y":0.337},{"x":0.336,"y":0.328},{"x":0.337,"y":0.362},{"x":0.34,"y":0.344},{"x":0.344,"y":0.337},{"x":0.348,"y":0.352},{"x":0.352,"y":0.345},{"x":0.356,"y":0.36},{"x":0.36,"y":0.353},{"x":0.364,"y":0.369},{"x":0.368,"y":0.361},{"x":0.372,"y":0.377},{"x":0.376,"y":0.369},{"x":0.38,"y":0.385},{"x":0.384,"y":0.377},{"x":0.388,"y":0.393},{"x":0.392,"y":0.386},{"x":0.396,"y":0.401},{"x":0.4,"y":0.393},{"x":0.404,"y":0.41},{"x":0.408,"y":0.401},{"x":0.409,"y":0.388},{"x":0.412,"y":0.418},{"x":0.416,"y":0.41},{"x":0.42,"y":0.425},{"x":0.424,"y":0.418},{"x":0.428,"y":0.434},{"x":0.432,"y":0.426},{"x":0.436,"y":0.442},{"x":0.44,"y":0.434},{"x":0.444,"y":0.45},{"x":0.448,"y":0.442},{"x":0.452,"y":0.458},{"x":0.456,"y":0.45},{"x":0.46,"y":0.475},{"x":0.46,"y":0.466},{"x":0.464,"y":0.458},{"x":0.468,"y":0.474},{"x":0.472,"y":0.466},{"x":0.476,"y":0.482},{"x":0.48,"y":0.474},{"x":0.484,"y":0.49},{"x":0.488,"y":0.482},{"x":0.492,"y":0.498},{"x":0.496,"y":0.49},{"x":0.5,"y":0.506},{"x":0.504,"y":0.498},{"x":0.508,"y":0.514},{"x":0.512,"y":0.506},{"x":0.516,"y":0.522},{"x":0.52,"y":0.514},{"x":0.524,"y":0.53},{"x":0.528,"y":0.522},{"x":0.532,"y":0.538},{"x":0.536,"y":0.53},{"x":0.54,"y":0.546},{"x":0.544,"y":0.538},{"x":0.548,"y":0.554},{"x":0.552,"y":0.546},{"x":0.556,"y":0.562},{"x":0.56,"y":0.554},{"x":0.564,"y":0.57},{"x":0.568,"y":0.562},{"x":0.572,"y":0.578},{"x":0.576,"y":0.57},{"x":0.58,"y":0.586},{"x":0.584,"y":0.578},{"x":0.588,"y":0.594},{"x":0.592,"y":0.586},{"x":0.596,"y":0.602},{"x":0.6,"y":0.594},{"x":0.604,"y":0.61},{"x":0.608,"y":0.602},{"x":0.612,"y":0.618},{"x":0.616,"y":0.61},{"x":0.62,"y":0.626},{"x":0.624,"y":0.618},{"x":0.628,"y":0.66},{"x":0.628,"y":0.634},{"x":0.632,"y":0.626},{"x":0.636,"y":0.642},{"x":0.64,"y":0.634},{"x":0.644,"y":0.65},{"x":0.648,"y":0.642},{"x":0.649,"y":0.627},{"x":0.652,"y":0.658},{"x":0.656,"y":0.65},{"x":0.66,"y":0.666},{"x":0.664,"y":0.658},{"x":0.668,"y":0.674},{"x":0.672,"y":0.666},{"x":0.676,"y":0.682},{"x":0.68,"y":0.674},{"x":0.684,"y":0.69},{"x":0.688,"y":0.682},{"x":0.692,"y":0.698},{"x":0.696,"y":0.69},{"x":0.7,"y":0.675},{"x":0.7,"y":0.706},{"x":0.704,"y":0.698},{"x":0.708,"y":0.714},{"x":0.712,"y":0.706},{"x":0.716,"y":0.722},{"x":0.72,"y":0.714},{"x":0.724,"y":0.73},{"x":0.728,"y":0.722},{"x":0.732,"y":0.738},{"x":0.736,"y":0.73},{"x":0.74,"y":0.746},{"x":0.744,"y":0.738},{"x":0.748,"y":0.754},{"x":0.752,"y":0.746},{"x":0.756,"y":0.762},{"x":0.76,"y":0.754},{"x":0.764,"y":0.77},{"x":0.768,"y":0.762},{"x":0.772,"y":0.778},{"x":0.776,"y":0.77},{"x":0.78,"y":0.786},{"x":0.784,"y":0.778},{"x":0.788,"y":0.794},{"x":0.792,"y":0.786},{"x":0.796,"y":0.8},{"x":0.8,"y":0.792},{"x":0.805,"y":0.793},{"x":0.806,"y":0.806},{"x":0.812,"y":0.812},{"x":0.823,"y":0.824},
{"x":0.218,"y":0.226},{"x":0.228,"y":0.242},{"x":0.236,"y":0.236},{"x":0.244,"y":0.256},{"x":0.252,"y":0.25},{"x":0.26,"y":0.272},{"x":0.268,"y":0.262},{"x":0.276,"y":0.288},{"x":0.284,"y":0.276},{"x":0.292,"y":0.305},{"x":0.3,"y":0.292},{"x":0.308,"y":0.322},{"x":0.316,"y":0.308},{"x":0.324,"y":0.338},{"x":0.332,"y":0.324},{"x":0.34,"y":0.355},{"x":0.348,"y":0.34},{"x":0.356,"y":0.371},{"x":0.364,"y":0.356},{"x":0.372,"y":0.387},{"x":0.38,"y":0.372},{"x":0.388,"y":0.403},{"x":0.396,"y":0.388},{"x":0.404,"y":0.419},{"x":0.412,"y":0.404},{"x":0.42,"y":0.435},{"x":0.428,"y":0.42},{"x":0.436,"y":0.451},{"x":0.444,"y":0.436},{"x":0.452,"y":0.467},{"x":0.46,"y":0.452},{"x":0.468,"y":0.483},{"x":0.476,"y":0.468},{"x":0.484,"y":0.499},{"x":0.492,"y":0.484},{"x":0.5,"y":0.515},{"x":0.508,"y":0.5},{"x":0.516,"y":0.531},{"x":0.524,"y":0.516},{"x":0.532,"y":0.547},{"x":0.54,"y":0.532},{"x":0.548,"y":0.563},{"x":0.556,"y":0.548},{"x":0.564,"y":0.579},{"x":0.572,"y":0.564},{"x":0.58,"y":0.595},{"x":0.588,"y":0.58},{"x":0.596,"y":0.611},{"x":0.604,"y":0.596},{"x":0.612,"y":0.627},{"x":0.62,"y":0.612},{"x":0.628,"y":0.643},{"x":0.636,"y":0.628},{"x":0.644,"y":0.659},{"x":0.652,"y":0.644},{"x":0.66,"y":0.675},{"x":0.668,"y":0.66},{"x":0.676,"y":0.691},{"x":0.684,"y":0.676},{"x":0.692,"y":0.707},{"x":0.7,"y":0.692},{"x":0.708,"y":0.723},{"x":0.716,"y":0.708},{"x":0.724,"y":0.739},{"x":0.732,"y":0.724},{"x":0.74,"y":0.755},{"x":0.748,"y":0.74},{"x":0.756,"y":0.771},{"x":0.764,"y":0.756},{"x":0.772,"y":0.787},{"x":0.78,"y":0.772},{"x":0.788,"y":0.8},{"x":0.796,"y":0.788},{"x":0.81,"y":0.806},
{"x":0.223,"y":0.228},{"x":0.232,"y":0.24},{"x":0.24,"y":0.247},{"x":0.248,"y":0.252},{"x":0.256,"y":0.263},{"x":0.264,"y":0.267},{"x":0.272,"y":0.279},{"x":0.28,"y":0.282},{"x":0.288,"y":0.295},{"x":0.296,"y":0.298},{"x":0.304,"y":0.311},{"x":0.312,"y":0.314},{"x":0.32,"y":0.327},{"x":0.328,"y":0.33},{"x":0.336,"y":0.343},{"x":0.344,"y":0.346},{"x":0.352,"y":0.359},{"x":0.36,"y":0.362},{"x":0.368,"y":0.375},{"x":0.376,"y":0.378},{"x":0.384,"y":0.391},{"x":0.392,"y":0.394},{"x":0.4,"y":0.407},{"x":0.408,"y":0.41},{"x":0.416,"y":0.423},{"x":0.424,"y":0.426},{"x":0.432,"y":0.439},{"x":0.44,"y":0.442},{"x":0.448,"y":0.455},{"x":0.456,"y":0.458},{"x":0.464,"y":0.471},{"x":0.472,"y":0.474},{"x":0.48,"y":0.487},{"x":0.488,"y":0.49},{"x":0.496,"y":0.503},{"x":0.504,"y":0.506},{"x":0.512,"y":0.519},{"x":0.52,"y":0.522},{"x":0.528,"y":0.535},{"x":0.536,"y":0.538},{"x":0.544,"y":0.551},{"x":0.552,"y":0.554},{"x":0.56,"y":0.567},{"x":0.568,"y":0.57},{"x":0.576,"y":0.583},{"x":0.584,"y":0.586},{"x":0.592,"y":0.599},{"x":0.6,"y":0.602},{"x":0.608,"y":0.615},{"x":0.616,"y":0.618},{"x":0.624,"y":0.631},{"x":0.632,"y":0.634},{"x":0.64,"y":0.647},{"x":0.648,"y":0.65},{"x":0.656,"y":0.663},{"x":0.664,"y":0.666},{"x":0.672,"y":0.679},{"x":0.68,"y":0.682},{"x":0.688,"y":0.695},{"x":0.696,"y":0.698},{"x":0.704,"y":0.711},{"x":0.712,"y":0.714},{"x":0.72,"y":0.727},{"x":0.728,"y":0.73},{"x":0.736,"y":0.743},{"x":0.744,"y":0.746},{"x":0.752,"y":0.759},{"x":0.76,"y":0.762},{"x":0.768,"y":0.775},{"x":0.776,"y":0.778},{"x":0.784,"y":0.791},{"x":0.792,"y":0.794},{"x":0.8,"y":0.8},
{"x":0.226,"y":0.242},{"x":0.237,"y":0.253},{"x":0.248,"y":0.264},{"x":0.259,"y":0.275},{"x":0.27,"y":0.286},{"x":0.281,"y":0.297},{"x":0.292,"y":0.308},{"x":0.303,"y":0.319},{"x":0.314,"y":0.33},{"x":0.325,"y":0.341},{"x":0.336,"y":0.352},{"x":0.347,"y":0.363},{"x":0.358,"y":0.374},{"x":0.369,"y":0.385},{"x":0.38,"y":0.396},{"x":0.391,"y":0.407},{"x":0.402,"y":0.418},{"x":0.413,"y":0.429},{"x":0.424,"y":0.44},{"x":0.435,"y":0.451},{"x":0.446,"y":0.462},{"x":0.457,"y":0.473},{"x":0.468,"y":0.484},{"x":0.479,"y":0.495},{"x":0.49,"y":0.506},{"x":0.501,"y":0.517},{"x":0.512,"y":0.528},{"x":0.523,"y":0.539},{"x":0.534,"y":0.55},{"x":0.545,"y":0.561},{"x":0.556,"y":0.572},{"x":0.567,"y":0.583},{"x":0.578,"y":0.594},{"x":0.589,"y":0.605},{"x":0.6,"y":0.616},{"x":0.611,"y":0.627},{"x":0.622,"y":0.638},{"x":0.633,"y":0.649},{"x":0.644,"y":0.66},{"x":0.655,"y":0.671},{"x":0.666,"y":0.682},{"x":0.677,"y":0.693},{"x":0.688,"y":0.704},{"x":0.699,"y":0.715},{"x":0.71,"y":0.726},{"x":0.721,"y":0.737},{"x":0.732,"y":0.748},{"x":0.743,"y":0.759},{"x":0.754,"y":0.77},{"x":0.765,"y":0.781},{"x":0.776,"y":0.792},{"x":0.787,"y":0.801},
{"x":0.24,"y":0.223},{"x":0.251,"y":0.234},{"x":0.262,"y":0.245},{"x":0.273,"y":0.256},{"x":0.284,"y":0.267},{"x":0.295,"y":0.278},{"x":0.306,"y":0.289},{"x":0.317,"y":0.3},{"x":0.328,"y":0.311},{"x":0.339,"y":0.322},{"x":0.35,"y":0.333},{"x":0.361,"y":0.344},{"x":0.372,"y":0.355},{"x":0.383,"y":0.366},{"x":0.394,"y":0.377},{"x":0.405,"y":0.388},{"x":0.416,"y":0.399},{"x":0.427,"y":0.41},{"x":0.438,"y":0.421},{"x":0.449,"y":0.432},{"x":0.46,"y":0.443},{"x":0.471,"y":0.454},{"x":0.482,"y":0.465},{"x":0.493,"y":0.476},{"x":0.504,"y":0.487},{"x":0.515,"y":0.498},{"x":0.526,"y":0.509},{"x":0.537,"y":0.52},{"x":0.548,"y":0.531},{"x":0.559,"y":0.542},{"x":0.57,"y":0.553},{"x":0.581,"y":0.564},{"x":0.592,"y":0.575},{"x":0.603,"y":0.586},{"x":0.614,"y":0.597},{"x":0.625,"y":0.608},{"x":0.636,"y":0.619},{"x":0.647,"y":0.63},{"x":0.658,"y":0.641},{"x":0.669,"y":0.652},{"x":0.68,"y":0.663},{"x":0.691,"y":0.674},{"x":0.702,"y":0.685},{"x":0.713,"y":0.696},{"x":0.724,"y":0.707},{"x":0.735,"y":0.718},{"x":0.746,"y":0.729},{"x":0.757,"y":0.74},{"x":0.768,"y":0.751},{"x":0.779,"y":0.762},{"x":0.79,"y":0.773},{"x":0.801,"y":0.788},
{"x":0.231,"y":0.24},{"x":0.242,"y":0.237},{"x":0.253,"y":0.262},{"x":0.264,"y":0.259},{"x":0.275,"y":0.284},{"x":0.286,"y":0.281},{"x":0.297,"y":0.306},{"x":0.308,"y":0.303},{"x":0.319,"y":0.328},{"x":0.33,"y":0.325},{"x":0.341,"y":0.35},{"x":0.352,"y":0.347},{"x":0.363,"y":0.372},{"x":0.374,"y":0.369},{"x":0.385,"y":0.394},{"x":0.396,"y":0.391},{"x":0.407,"y":0.416},{"x":0.418,"y":0.413},{"x":0.429,"y":0.438},{"x":0.44,"y":0.435},{"x":0.451,"y":0.46},{"x":0.462,"y":0.457},{"x":0.473,"y":0.482},{"x":0.484,"y":0.479},{"x":0.495,"y":0.504},{"x":0.506,"y":0.501},{"x":0.517,"y":0.526},{"x":0.528,"y":0.523},{"x":0.539,"y":0.548},{"x":0.55,"y":0.545},{"x":0.561,"y":0.57},{"x":0.572,"y":0.567},{"x":0.583,"y":0.592},{"x":0.594,"y":0.589},{"x":0.605,"y":0.614},{"x":0.616,"y":0.611},{"x":0.627,"y":0.636},{"x":0.638,"y":0.633},{"x":0.649,"y":0.658},{"x":0.66,"y":0.655},{"x":0.671,"y":0.68},{"x":0.682,"y":0.677},{"x":0.693,"y":0.702},{"x":0.704,"y":0.699},{"x":0.715,"y":0.724},{"x":0.726,"y":0.721},{"x":0.737,"y":0.746},{"x":0.748,"y":0.743},{"x":0.759,"y":0.768},{"x":0.77,"y":0.765},{"x":0.781,"y":0.79},{"x":0.792,"y":0.787}]
},
"columns":2,
"spacing":{"row":235,"column":158},
"bounds":"flush",
"concat":[
 {"width":393,"height":318,"title":{"text":["(a) Main effects model","Coefficient of determination: .971"]},
  "layer":[
   {"data":{"name":"diag"},"mark":"line","encoding":{"x":{"field":"x","type":"quantitative","scale":{"domain":[0.154,0.856],"nice":false,"zero":false},"axis":{"values":[0.2,0.3,0.4,0.5,0.6,0.7,0.8]},"title":"Accuracy (fitted)"},"y":{"field":"y","type":"quantitative","scale":{"domain":[0.154,0.856],"nice":false,"zero":false},"axis":{"values":[0.2,0.3,0.4,0.5,0.6,0.7,0.8]},"title":"Accuracy (simulated)"}}},
   {"data":{"name":"a"},"mark":"point","encoding":{"x":{"field":"x","type":"quantitative"},"y":{"field":"y","type":"quantitative"}}}
  ]},
 {"width":393,"height":318,"title":{"text":["(b) Benchmark index only","Coefficient of determination: .981"]},
  "layer":[
   {"data":{"name":"diag"},"mark":"line","encoding":{"x":{"field":"x","type":"quantitative","scale":{"domain":[0.154,0.856],"nice":false,"zero":false},"axis":{"values":[0.2,0.3,0.4,0.5,0.6,0.7,0.8]},"title":"Accuracy (fitted)"},"y":{"field":"y","type":"quantitative","scale":{"domain":[0.154,0.856],"nice":false,"zero":false},"axis":{"values":[0.2,0.3,0.4,0.5,0.6,0.7,0.8]},"title":"Accuracy (simulated)"}}},
   {"data":{"name":"b"},"mark":"point","encoding":{"x":{"field":"x","type":"quantitative"},"y":{"field":"y","type":"quantitative"}}}
  ]},
 {"width":393,"height":318,"title":{"text":["(c) Full model","Coefficient of determination: .997"]},
  "layer":[
   {"data":{"name":"diag"},"mark":"line","encoding":{"x":{"field":"x","type":"quantitative","scale":{"domain":[0.154,0.856],"nice":false,"zero":false},"axis":{"values":[0.2,0.3,0.4,0.5,0.6,0.7,0.8]},"title":"Accuracy (fitted)"},"y":{"field":"y","type":"quantitative","scale":{"domain":[0.154,0.856],"nice":false,"zero":false},"axis":{"values":[0.2,0.3,0.4,0.5,0.6,0.7,0.8]},"title":"Accuracy (simulated)"}}},
   {"data":{"name":"c"},"mark":"point","encoding":{"x":{"field":"x","type":"quantitative"},"y":{"field":"y","type":"quantitative"}}}
  ]},
 {"width":393,"height":318,"title":{"text":["(d) Selected model","Coefficient of determination: .997"]},
  "layer":[
   {"data":{"name":"diag"},"mark":"line","encoding":{"x":{"field":"x","type":"quantitative","scale":{"domain":[0.154,0.856],"nice":false,"zero":false},"axis":{"values":[0.2,0.3,0.4,0.5,0.6,0.7,0.8]},"title":"Accuracy (fitted)"},"y":{"field":"y","type":"quantitative","scale":{"domain":[0.154,0.856],"nice":false,"zero":false},"axis":{"values":[0.2,0.3,0.4,0.5,0.6,0.7,0.8]},"title":"Accuracy (simulated)"}}},
   {"data":{"name":"d"},"mark":"point","encoding":{"x":{"field":"x","type":"quantitative"},"y":{"field":"y","type":"quantitative"}}}
  ]}
]
}
